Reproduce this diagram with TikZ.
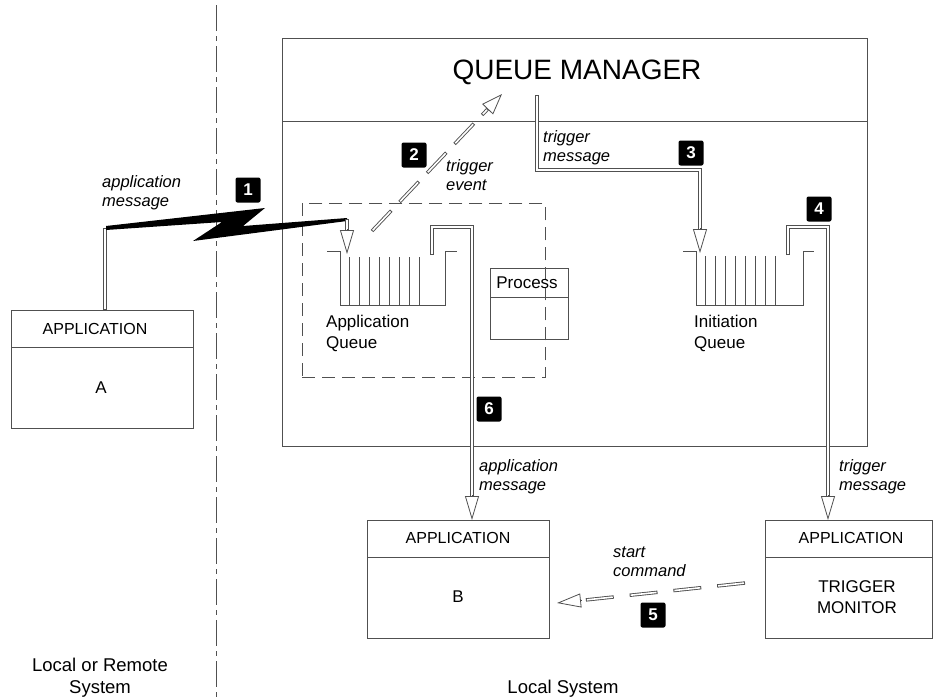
\documentclass[tikz,border=0pt]{standalone}
\usepackage{fontspec}
\setmainfont{Liberation Sans}
\usetikzlibrary{arrows.meta,calc}
\definecolor{lc}{RGB}{80,80,80}
\tikzset{
 box/.style={draw=lc, line width=0.9pt, inner sep=0pt, outer sep=0pt},
 divl/.style={draw=lc, line width=0.9pt},
 dblout/.style={draw=lc, line width=3.4pt},
 dblin/.style={draw=white, line width=1.6pt, shorten <=0.9pt, shorten >=0.9pt},
 ddout/.style={draw=lc, line width=3.4pt, dash pattern=on 28pt off 12pt},
 ddin/.style={draw=white, line width=1.6pt, dash pattern=on 26pt off 14pt, dash phase=39pt},
 ddoutb/.style={draw=lc, line width=3.4pt, dash pattern=on 28pt off 16pt},
 ddinb/.style={draw=white, line width=1.6pt, dash pattern=on 26pt off 18pt, dash phase=43pt},
 ahead/.style={draw=lc, line width=0.8pt, -{Triangle[length=24pt,width=14pt,fill=white]}},
 aheadd/.style={draw=lc, line width=0.8pt, -{Triangle[length=21pt,width=15pt,fill=white]}},
 badge/.style={fill=black, rounded corners=2pt, minimum width=25pt, minimum height=25pt, text=white, font=\fontsize{17}{17}\selectfont\bfseries, inner sep=0pt},
 lbl/.style={font=\fontsize{16.5}{19}\selectfont\itshape, align=left, anchor=west, inner sep=0pt},
 txt/.style={font=\fontsize{17}{21}\selectfont, align=center, inner sep=0pt},
 captxt/.style={font=\fontsize{16}{20}\selectfont, align=center, inner sep=0pt},
 bigtxt/.style={font=\fontsize{18.5}{22}\selectfont, align=center, inner sep=0pt},
 qline/.style={draw=lc, line width=0.9pt},
}
\begin{document}
\begin{tikzpicture}[x=1pt,y=-1pt]
\useasboundingbox (0,0) rectangle (935,699);
% separator
\draw[lc, line width=1pt, dash pattern=on 26pt off 5pt on 5pt off 5pt] (216,5) -- (216,699);
% queue manager
\node[box, minimum width=585pt, minimum height=408pt, anchor=north west] (qm) at (282,38) {};
\draw[divl] (282,121) -- (867,121);
\node[font=\fontsize{28}{28}\selectfont, inner sep=0pt] (qmt) at (577,72) {QUEUE MANAGER};
% dashed box
\node[draw=lc, line width=0.9pt, dash pattern=on 13pt off 7pt, minimum width=243pt, minimum height=174pt, anchor=north west, inner sep=0pt] (dbox) at (302,203) {};
% application queue
\draw[qline] (327,251) -- (340,251) -- (340,305) -- (445,305) -- (445,251) -- (457,251);
\foreach \x in {349,359,...,419} \draw[qline] (\x,257) -- (\x,305);
\coordinate (aqin) at (347,254);
\coordinate (aqout) at (432,255);
\node[txt, align=left, anchor=west] (aql) at (326,333) {Application\\Queue};
% initiation queue
\draw[qline] (683,251) -- (696,251) -- (696,305) -- (803,305) -- (803,251) -- (814,251);
\foreach \x in {705,715,...,775} \draw[qline] (\x,256) -- (\x,305);
\coordinate (iqin) at (700,253);
\coordinate (iqout) at (788,255);
\node[txt, align=left, anchor=west] (iql) at (694,333) {Initiation\\Queue};
% process
\node[box, minimum width=78pt, minimum height=71pt, anchor=north west] (proc) at (490,268) {};
\draw[divl] (490,297) -- (568,297);
\node[txt] (proct) at (527,283) {Process};
% application A
\node[box, minimum width=182pt, minimum height=118pt, anchor=north west] (appa) at (11,310) {};
\draw[divl] (11,347) -- (193,347);
\node[captxt] (appah) at (95,329) {APPLICATION};
\node[txt] (appab) at (101,388) {A};
% application B
\node[box, minimum width=182pt, minimum height=118pt, anchor=north west] (appb) at (367,520) {};
\draw[divl] (367,557) -- (549,557);
\node[captxt] (appbh) at (458,538) {APPLICATION};
\node[txt] (appbb) at (458,597) {B};
% trigger monitor
\node[box, minimum width=167pt, minimum height=118pt, anchor=north west] (tm) at (765,520) {};
\draw[divl] (765,557) -- (932,557);
\node[captxt] (tmh) at (851,538) {APPLICATION};
\node[txt] (tmb) at (857,597) {TRIGGER\\MONITOR};
% arrow 1: application message with lightning
\coordinate (a1s) at (105,310);
\coordinate (a1k) at (105,228);
\draw[dblout] (a1s) -- (a1k);
\draw[dblin] (a1s) -- (a1k);
\fill[black] (106,226) -- (265,208) -- (243,226) -- (347,218) -- (347,221) -- (193,241) -- (222,222) -- (106,230) -- cycle;
\coordinate (a1e) at (347,219);
\draw[dblout] (a1e) -- ($(aqin)+(0,-20)$);
\draw[dblin] (a1e) -- ($(aqin)+(0,-20)$);
\draw[ahead] ($(aqin)+(0,-25)$) -- (aqin);
\node[lbl] (l1) at (102,193) {application\\message};
\node[badge] (b1) at (248,190) {1};
% arrow 2: trigger event
\coordinate (a2s) at (372,231);
\coordinate (a2t) at (502,94);
\draw[ddout] (a2s) -- ($(a2t)!17pt!(a2s)$);
\draw[ddin] (a2s) -- ($(a2t)!17pt!(a2s)$);
\draw[aheadd] ($(a2t)!22pt!(a2s)$) -- (a2t);
\node[badge] (b2) at (414,155) {2};
\node[lbl] (l2) at (446,175) {trigger\\event};
% arrow 3: trigger message to initiation queue
\coordinate (a3s) at (537,95);
\draw[dblout] (a3s) -- (537,170) -- (700,170) -- ($(iqin)+(0,-20)$);
\draw[dblin] (a3s) -- (537,170) -- (700,170) -- ($(iqin)+(0,-20)$);
\draw[ahead] ($(iqin)+(0,-25)$) -- (iqin);
\node[lbl] (l3) at (543,148) {trigger\\message};
\node[badge] (b3) at (691,153) {3};
% arrow 4: initiation queue to trigger monitor
\coordinate (a4t) at (828,520);
\draw[dblout] (iqout) -- (788,227) -- (828,227) -- ($(a4t)+(0,-20)$);
\draw[dblin] (iqout) -- (788,227) -- (828,227) -- ($(a4t)+(0,-20)$);
\draw[ahead] ($(a4t)+(0,-25)$) -- (a4t);
\node[badge] (b4) at (819,209) {4};
\node[lbl] (l4) at (839,477) {trigger\\message};
% arrow 6: application queue to application B
\coordinate (a6t) at (472,520);
\draw[dblout] (aqout) -- (432,227) -- (472,227) -- ($(a6t)+(0,-20)$);
\draw[dblin] (aqout) -- (432,227) -- (472,227) -- ($(a6t)+(0,-20)$);
\draw[ahead] ($(a6t)+(0,-25)$) -- (a6t);
\node[badge] (b6) at (489,409) {6};
\node[lbl] (l6) at (479,477) {application\\message};
% arrow 5: start command
\coordinate (a5s) at (745,583);
\coordinate (a5t) at (557,603);
\draw[ddoutb] (a5s) -- ($(a5t)!20pt!(a5s)$);
\draw[ddinb] (a5s) -- ($(a5t)!20pt!(a5s)$);
\draw[ahead, -{Triangle[length=24pt,width=14pt,fill=white]}] ($(a5t)!25pt!(a5s)$) -- (a5t);
\node[lbl] (l5) at (613,562) {start\\command};
\node[badge] (b5) at (653,615) {5};
% bottom labels
\node[bigtxt] (lr) at (100,678) {Local or Remote\\System};
\node[bigtxt] (ls) at (563,689) {Local System};
\end{tikzpicture}
\end{document}
